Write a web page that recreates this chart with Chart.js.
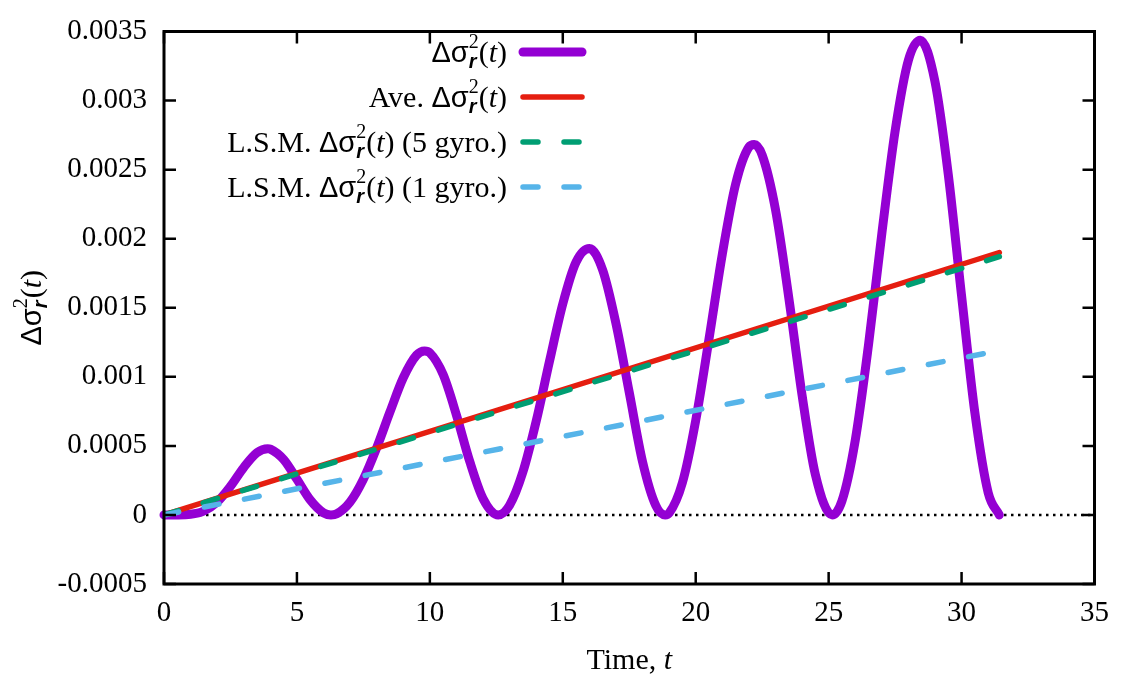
<!DOCTYPE html>
<html lang="en">
<head>
    <meta charset="UTF-8">
    <title>Delta sigma r squared vs time</title>
    <script src="https://cdn.jsdelivr.net/npm/chart.js"></script>
    <style>
        body {
            margin: 0;
            padding: 0;
            background: #ffffff;
        }
        #wrap {
            width: 1124px;
            height: 678px;
        }
    </style>
</head>
<body>
    <div id="wrap">
        <canvas id="sigmaChart" width="1124" height="678"></canvas>
    </div>

    <script>
        // values
        const timePts = [0, 0.5, 1, 1.5, 2, 2.5, 3, 3.5, 3.9, 4, 4.5, 5, 5.5, 6, 6.28, 6.5, 7, 7.5, 8, 8.5,
            9, 9.5, 9.8, 10, 10.5, 11, 11.5, 12, 12.57, 13, 13.5, 14, 14.5, 15, 15.5, 16, 16.5, 17, 17.5,
            18, 18.5, 18.85, 19, 19.5, 20, 20.5, 21, 21.5, 22, 22.2, 22.5, 23, 23.5, 24, 24.5, 25.13, 25.5,
            26, 26.5, 27, 27.5, 28, 28.45, 29, 29.5, 30, 30.5, 31, 31.42];
        const sigmaVals = [0, 0.0000002, 0.0000044, 0.0000283, 0.0000934, 0.000207, 0.000344, 0.000451,
            0.000479, 0.000476, 0.000401, 0.000258, 0.000109, 0.000015, 0, 0.0000089, 0.0000944, 0.000259,
            0.000486, 0.000746, 0.000993, 0.001157, 0.001187, 0.001173, 0.001016, 0.000723, 0.000387,
            0.000118, 0, 0.0000705, 0.000311, 0.000679, 0.001112, 0.001528, 0.001831, 0.001929, 0.001773,
            0.001386, 0.000887, 0.000385, 0.000067, 0, 0.000013, 0.000234, 0.000684, 0.001274, 0.001888,
            0.002394, 0.002663, 0.002682, 0.002605, 0.002211, 0.001574, 0.000868, 0.000293, 0, 0.000101,
            0.000539, 0.001232, 0.002036, 0.002779, 0.003292, 0.003437, 0.003137, 0.002465, 0.001586,
            0.00074, 0.000162, 0];

        const fitT = [0, 31.42];
        const aveVals = [0, 0.0019];
        const lsm5Vals = [0, 0.00187];
        const lsm1Vals = [0, 0.00119];

        const zeroT = [0, 35];
        const zeroVals = [0, 0];

        const xTicks = [0, 5, 10, 15, 20, 25, 30, 35];
        const yTicks = [-0.0005, 0, 0.0005, 0.001, 0.0015, 0.002, 0.0025, 0.003, 0.0035];

        const serif = '"Liberation Serif", "Times New Roman", serif';
        const sans = '"Liberation Sans", Arial, sans-serif';
        const txtSize = 30;

        function pts(xs, ys) {
            return xs.map((x, i) => ({ x: x, y: ys[i] }));
        }

        // rich text pieces for  Δσ_r^2(t)
        function sigmaParts(size) {
            const small = Math.round(size * 0.68);
            return [
                { text: 'Δσ', font: size - 1 + 'px ' + sans, dy: 0 },
                { text: '2', font: small + 'px ' + serif, dy: -Math.round(size * 0.45) },
                { text: 'r', font: 'italic bold ' + small + 'px ' + sans, dy: Math.round(size * 0.2), stack: true },
                { text: '(', font: size + 'px ' + serif, dy: 0 },
                { text: 't', font: 'italic ' + size + 'px ' + serif, dy: 0 },
                { text: ')', font: size + 'px ' + serif, dy: 0 }
            ];
        }

        function plain(text, size, style) {
            return { text: text, font: (style ? style + ' ' : '') + size + 'px ' + serif, dy: 0 };
        }

        function layoutRich(ctx, segs) {
            let x = 0, lastStart = 0, lastW = 0;
            const items = [];
            segs.forEach(s => {
                ctx.font = s.font;
                const w = ctx.measureText(s.text).width;
                if (s.stack) {
                    items.push({ s: s, x: lastStart });
                    lastW = Math.max(lastW, w);
                    x = lastStart + lastW;
                } else {
                    items.push({ s: s, x: x });
                    lastStart = x;
                    lastW = w;
                    x += w;
                }
            });
            return { items: items, width: x };
        }

        function drawRich(ctx, segs, x, y, align) {
            const lay = layoutRich(ctx, segs);
            let x0 = x;
            if (align === 'right') x0 = x - lay.width;
            if (align === 'center') x0 = x - lay.width / 2;
            ctx.fillStyle = '#000';
            ctx.textBaseline = 'alphabetic';
            ctx.textAlign = 'left';
            lay.items.forEach(it => {
                ctx.font = it.s.font;
                ctx.fillText(it.s.text, x0 + it.x, y + it.s.dy);
            });
        }

        const legendRows = [
            { ds: 0, parts: () => sigmaParts(txtSize) },
            { ds: 1, parts: () => [plain('Ave. ', txtSize)].concat(sigmaParts(txtSize)) },
            { ds: 2, parts: () => [plain('L.S.M. ', txtSize)].concat(sigmaParts(txtSize), [plain(' (5 gyro.)', txtSize)]) },
            { ds: 3, parts: () => [plain('L.S.M. ', txtSize)].concat(sigmaParts(txtSize), [plain(' (1 gyro.)', txtSize)]) }
        ];

        const framePlugin = {
            id: 'gnuplotFrame',
            afterDraw(chart) {
                const ctx = chart.ctx;
                const area = chart.chartArea;
                const xs = chart.scales.x;
                const ys = chart.scales.y;
                const tickLen = 12;

                ctx.save();
                ctx.strokeStyle = '#000';
                ctx.lineWidth = 2.5;
                ctx.lineCap = 'butt';
                ctx.setLineDash([]);

                // inward ticks on all four sides
                ctx.beginPath();
                xTicks.forEach(v => {
                    const px = xs.getPixelForValue(v);
                    ctx.moveTo(px, area.bottom);
                    ctx.lineTo(px, area.bottom - tickLen);
                    ctx.moveTo(px, area.top);
                    ctx.lineTo(px, area.top + tickLen);
                });
                yTicks.forEach(v => {
                    const py = ys.getPixelForValue(v);
                    ctx.moveTo(area.left, py);
                    ctx.lineTo(area.left + tickLen, py);
                    ctx.moveTo(area.right, py);
                    ctx.lineTo(area.right - tickLen, py);
                });
                ctx.stroke();

                // border
                ctx.lineWidth = 3;
                ctx.lineJoin = 'miter';
                ctx.strokeRect(area.left, area.top, area.right - area.left, area.bottom - area.top);

                // legend, text right aligned, sample on the right
                const textRight = 507;
                const sampleL = 523;
                const sampleR = 582;
                legendRows.forEach((row, i) => {
                    const ds = chart.data.datasets[row.ds];
                    const sy = 52 + i * 45;
                    drawRich(ctx, row.parts(), textRight, sy + 10, 'right');
                    ctx.beginPath();
                    ctx.strokeStyle = ds.borderColor;
                    ctx.lineWidth = ds.borderWidth;
                    ctx.lineCap = 'round';
                    ctx.setLineDash(ds.borderDash || []);
                    ctx.moveTo(sampleL, sy);
                    ctx.lineTo(sampleR, sy);
                    ctx.stroke();
                });
                ctx.setLineDash([]);

                // x axis title
                drawRich(ctx, [plain('Time, ', txtSize), plain('t', txtSize, 'italic')], (area.left + area.right) / 2, 669, 'center');

                // y axis title, rotated
                ctx.save();
                ctx.translate(41, (area.top + area.bottom) / 2);
                ctx.rotate(-Math.PI / 2);
                drawRich(ctx, sigmaParts(txtSize), 0, 0, 'center');
                ctx.restore();

                ctx.restore();
            }
        };

        const ctxSigma = document.getElementById('sigmaChart').getContext('2d');
        const sigmaChart = new Chart(ctxSigma, {
            type: 'line',
            data: {
                datasets: [
                    {
                        label: 'Δσ_r^2(t)',
                        data: pts(timePts, sigmaVals),
                        borderColor: '#9400D3',
                        borderWidth: 9,
                        cubicInterpolationMode: 'monotone',
                        borderCapStyle: 'round',
                        borderJoinStyle: 'round',
                        pointRadius: 0,
                        clip: 6,
                        order: 4
                    },
                    {
                        label: 'Ave. Δσ_r^2(t)',
                        data: pts(fitT, aveVals),
                        borderColor: '#E51E10',
                        borderWidth: 5.5,
                        borderCapStyle: 'round',
                        pointRadius: 0,
                        order: 3
                    },
                    {
                        label: 'L.S.M. Δσ_r^2(t) (5 gyro.)',
                        data: pts(fitT, lsm5Vals),
                        borderColor: '#009E73',
                        borderWidth: 5.5,
                        borderDash: [15, 26],
                        borderCapStyle: 'round',
                        pointRadius: 0,
                        order: 2
                    },
                    {
                        label: 'L.S.M. Δσ_r^2(t) (1 gyro.)',
                        data: pts(fitT, lsm1Vals),
                        borderColor: '#56B4E9',
                        borderWidth: 5.5,
                        borderDash: [15, 26],
                        borderCapStyle: 'round',
                        pointRadius: 0,
                        order: 1
                    },
                    {
                        label: 'zero',
                        data: pts(zeroT, zeroVals),
                        borderColor: '#000000',
                        borderWidth: 2.5,
                        borderDash: [2.5, 4.5],
                        pointRadius: 0,
                        order: 5
                    }
                ]
            },
            options: {
                responsive: false,
                animation: false,
                layout: {
                    padding: { top: 16, right: 27, left: 0, bottom: 0 }
                },
                plugins: {
                    legend: { display: false },
                    tooltip: { enabled: false }
                },
                scales: {
                    x: {
                        type: 'linear',
                        min: 0,
                        max: 35,
                        afterFit(scale) { scale.height = 94; },
                        afterBuildTicks(scale) { scale.ticks = xTicks.map(v => ({ value: v })); },
                        grid: { display: false, drawTicks: false },
                        border: { display: false },
                        ticks: {
                            padding: 15,
                            color: '#000',
                            maxRotation: 0,
                            font: { family: serif, size: 29, lineHeight: 1 },
                            callback: v => String(v)
                        }
                    },
                    y: {
                        min: -0.0005,
                        max: 0.0035,
                        afterFit(scale) { scale.width = 164; },
                        afterBuildTicks(scale) { scale.ticks = yTicks.map(v => ({ value: v })); },
                        grid: { display: false, drawTicks: false },
                        border: { display: false },
                        ticks: {
                            padding: 17,
                            color: '#000',
                            font: { family: serif, size: 29, lineHeight: 1 },
                            callback: v => String(+(+v).toFixed(4))
                        }
                    }
                }
            },
            plugins: [framePlugin]
        });
    </script>
</body>
</html>
